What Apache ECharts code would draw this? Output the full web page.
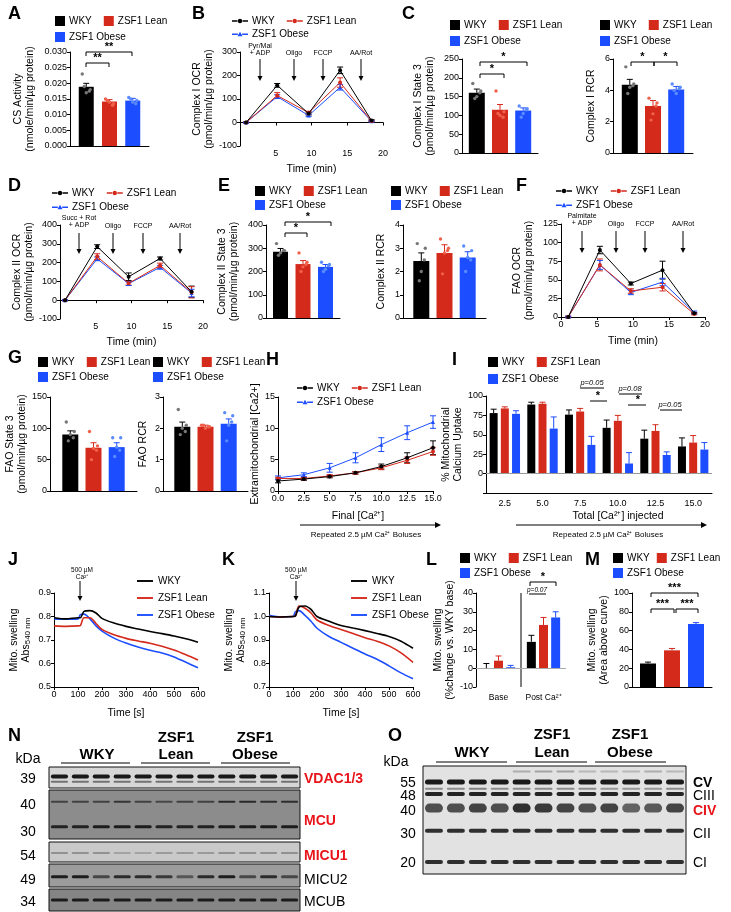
<!DOCTYPE html><html><head><meta charset="utf-8">
<script src="https://cdn.jsdelivr.net/npm/echarts@6/dist/echarts.min.js"></script>
<style>html,body{margin:0;background:#fff}#c{width:731px;height:912px}</style></head><body><div id="c"></div><script>
const FONT='Arial, "Liberation Sans", sans-serif';
const GROUPS=['WKY','ZSF1 Lean','ZSF1 Obese'];
const COLORS=['#000000','#d42a1c','#1c4dff'];
const DOTC=['#777777','#f0604a','#5a8cff'];
// ---- data ----
const csAct=[0.0189,0.0142,0.0145], csErr=[0.0011,0.0006,0.0007];
const csDots=[[0.023,0.018,0.017,0.019,0.0175],[0.015,0.0135,0.014,0.0145,0.013],[0.0155,0.0145,0.014,0.015,0.0135]];
const timeB=[0.85,5.2,9.6,14,18.4];
const c1Ocr=[[0,158,38,222,8],[0,115,42,170,6],[0,110,30,150,5]];
const c1OcrErr=[[2,8,6,14,4],[2,12,6,20,3],[2,8,5,12,3]];
const c1State3=[160,115,113], c1State3Err=[10,14,7];
const c1State3Dots=[[185,165,150,145,160],[165,110,100,105,95],[125,118,105,95,115]];
const c1RCR=[4.35,3.0,4.05], c1RCRErr=[0.35,0.35,0.2];
const c1RCRDots=[[5.5,4.4,4.2,3.8,4.3],[3.5,3.2,2.5,2.1,3.0],[4.4,4.2,3.8,4.0,4.1]];
const timeD=[0.7,5.2,9.6,14,18.4];
const c2Ocr=[[0,285,125,222,45],[0,232,90,185,42],[0,220,88,175,38]];
const c2OcrErr=[[3,10,20,8,30],[3,15,10,12,30],[3,10,10,10,20]];
const c2State3=[285,232,220], c2State3Err=[14,15,10];
const c2State3Dots=[[320,290,280,270,290],[280,240,220,200,230],[240,230,210,200,225]];
const c2RCR=[2.45,2.8,2.6], c2RCRErr=[0.35,0.35,0.25];
const c2RCRDots=[[3.2,3.0,2.0,1.6,2.5],[3.4,3.0,2.8,1.9,2.9],[3.1,2.9,2.6,2.0,2.5]];
const timeF=[1.0,5.4,9.7,14.1,18.5];
const faoOcr=[[0,90,45,63,5],[0,70,35,40,4],[0,70,33,47,6]];
const faoOcrErr=[[1,5,2,12,1],[1,8,3,5,1],[1,6,3,5,2]];
const faoState3=[90,69,70], faoState3Err=[6,8,7];
const faoState3Dots=[[110,95,90,80,85],[95,72,68,50,65],[85,85,70,55,65]];
const faoRCR=[2.05,2.05,2.15], faoRCRErr=[0.15,0.05,0.15];
const faoRCRDots=[[2.6,2.1,2.0,1.8,1.9],[2.1,2.05,2.0,2.1,2.05],[2.5,2.4,2.1,1.6,2.2]];
const caFinal=[0,2.5,5,7.5,10,12.5,15];
const extraCa=[[1.6,1.9,2.3,2.9,3.9,5.3,6.9],[2.0,2.0,2.4,2.9,3.7,4.9,6.3],[2.1,2.6,3.7,5.3,7.4,9.3,11.0]];
const extraCaErr=[[0.3,0.2,0.2,0.2,0.4,0.8,1.1],[0.2,0.2,0.2,0.2,0.3,0.5,0.6],[0.3,0.3,0.7,0.8,1.1,1.1,1.0]];
const caInjected=['2.5','5.0','7.5','10.0','12.5','15.0'];
const caUptake=[[78,89,76,59,45,35],[84,90,80,68,55,40],[77,58,37,13,24,31]];
const caUptakeErr=[[5,3,6,10,11,11],[2,2,4,7,8,9],[4,15,11,14,4,9]];
const swellT=[0,50,100,110,125,150,175,200,250,300,350,400,450,500,550,600];
const swellJ=[[0.795,0.79,0.795,0.795,0.822,0.825,0.815,0.792,0.772,0.758,0.747,0.736,0.727,0.717,0.705,0.690],
[0.760,0.758,0.760,0.762,0.795,0.795,0.770,0.745,0.722,0.707,0.696,0.686,0.673,0.657,0.637,0.615],
[0.790,0.788,0.790,0.808,0.810,0.790,0.760,0.738,0.708,0.687,0.670,0.656,0.645,0.628,0.605,0.582]];
const swellK=[[1.0,0.998,1.0,1.002,1.040,1.045,1.030,1.000,0.980,0.962,0.951,0.940,0.928,0.915,0.895,0.865],
[1.0,0.998,1.0,1.002,1.045,1.035,1.015,0.985,0.962,0.945,0.928,0.910,0.895,0.875,0.845,0.805],
[1.005,0.998,1.0,1.020,1.025,1.005,0.980,0.950,0.915,0.890,0.865,0.840,0.818,0.790,0.760,0.735]];
const swellCats=['Base','Post Ca²⁺'];
const swellPct=[[0,14],[4,23],[0.5,27]], swellPctErr=[[2.5,3.5],[2.5,4],[1,3]];
const swellArea=[25,39,67], swellAreaErr=[1.5,2,1.5];
// blot bands: [position(0-1), thickness px, intensities for 12 lanes]
const blotVDAC=[[0.45,4,[.95,.95,.95,.95,.95,.95,.95,.95,.95,.95,.95,.95]],[0.7,2,[.5,.5,.5,.5,.5,.5,.5,.5,.5,.5,.5,.5]]];
const blotMCU=[[0.24,2,[.6,.6,.6,.7,.6,.55,.6,.6,.8,.8,.75,.75]],[0.75,3,[.85,.85,.9,.9,.9,.85,.85,.85,.9,.9,.9,.9]]];
const blotMICU1=[[0.55,2,[.3,.3,.3,.2,.2,.25,.25,.25,.3,.3,.3,.3]]];
const blotMICU2=[[0.55,3,[.9,.9,.6,.8,.8,.7,.5,.8,.9,.6,.8,.6]]];
const blotMCUB=[[0.5,3,[.9,.9,.9,.9,.9,.9,.9,.9,.9,.9,.9,.9]]];
const blotOX=[[0.05,2,[0,0,0,0,.25,.3,.3,.2,.2,.2,.25,.2]],[0.148,5,[.95,.95,.95,.95,.95,.95,.95,.95,.95,.95,.95,.95]],
[0.21,2,[.4,.4,.45,.4,.4,.4,.4,.4,.35,.35,.35,.4]],[0.26,4,[.9,.9,.9,.9,.9,.9,.9,.9,.9,.9,.9,.9]],
[0.39,9,[.7,.7,.75,.7,.85,.8,.75,.7,.75,.6,.65,.75]],[0.60,4,[.85,.85,.85,.85,.85,.85,.85,.85,.85,.85,.85,.85]],
[0.89,4,[.85,.85,.85,.85,.85,.85,.85,.85,.85,.85,.85,.85]]];

// ---- builders ----
const grids=[],xAxes=[],yAxes=[],series=[],legends=[],graphics=[];
const axBase=()=>({axisLine:{show:true,onZero:true,lineStyle:{color:'#000',width:1}},axisTick:{show:true,length:3,lineStyle:{color:'#000'}},
 axisLabel:{color:'#000',fontSize:9,fontFamily:FONT,margin:3},splitLine:{show:false},
 nameTextStyle:{color:'#000',fontSize:10.5,fontFamily:FONT,lineHeight:12}});
function addGrid(l,t,w,h,x,y,extra){const gi=grids.length;grids.push(Object.assign({left:l,top:t,width:w,height:h},extra||{}));
 xAxes.push(Object.assign(axBase(),{gridIndex:gi},x));yAxes.push(Object.assign(axBase(),{gridIndex:gi},y));return gi;}
function yv(min,max,iv,name,gap,extra){return Object.assign({type:'value',min,max,interval:iv,name,nameLocation:'middle',nameGap:gap},extra||{});}
function errSeries(gi,pts,offFn,sym){series.push({type:'custom',xAxisIndex:gi,yAxisIndex:gi,data:pts,z:5,silent:true,
 renderItem:(p,api)=>{const k=api.value(3);const a=api.coord([api.value(0),api.value(1)+api.value(2)]);
  const b=api.coord([api.value(0),sym?api.value(1)-api.value(2):api.value(1)]);const x=a[0]+offFn(k);const c=COLORS[k];
  const st={stroke:c,lineWidth:1};const ch=[{type:'line',shape:{x1:x,y1:a[1],x2:x,y2:b[1]},style:st},{type:'line',shape:{x1:x-3,y1:a[1],x2:x+3,y2:a[1]},style:st}];
  if(sym)ch.push({type:'line',shape:{x1:x-3,y1:b[1],x2:x+3,y2:b[1]},style:st});return {type:'group',children:ch};}});}
function barPanel(gi,vals,errs,bw,gap){
 for(let k=0;k<3;k++)series.push({type:'bar',name:GROUPS[k],xAxisIndex:gi,yAxisIndex:gi,data:vals[k],barWidth:bw,barGap:(gap*100)+'%',itemStyle:{color:COLORS[k]},silent:true});
 const pts=[];vals.forEach((v,k)=>v.forEach((y,i)=>pts.push([i,y,errs[k][i],k])));
 errSeries(gi,pts,k=>(k-1)*bw*(1+gap),false);}
const JIT=[-4,4,0,-2,3];
function dotSeries(gi,dots,bw,gap){const pts=[];dots.forEach((d,k)=>d.forEach((v,j)=>pts.push([0,v,k,j])));
 series.push({type:'custom',xAxisIndex:gi,yAxisIndex:gi,data:pts,z:6,silent:true,renderItem:(p,api)=>{const k=api.value(2);const c=api.coord([0,api.value(1)]);
  return {type:'circle',shape:{cx:c[0]+(k-1)*bw*(1+gap)+JIT[api.value(3)],cy:c[1],r:1.7},style:{fill:DOTC[k]}};}});}
function simpleBar(l,t,w,h,y,vals,errs,bw,gap,dots){const gi=addGrid(l,t,w,h,{type:'category',data:['g'],axisLabel:{show:false},axisTick:{show:false}},y);
 barPanel(gi,vals.map(v=>[v]),errs.map(e=>[e]),bw,gap);if(dots)dotSeries(gi,dots,bw,gap);return gi;}
function linePanel(gi,xs,vals,errs,size){
 for(let k=0;k<3;k++)series.push({type:'line',name:GROUPS[k],xAxisIndex:gi,yAxisIndex:gi,data:xs.map((x,i)=>[x,vals[k][i]]),
  symbol:k==2?'triangle':'circle',symbolSize:size||4,lineStyle:{width:1,color:COLORS[k]},itemStyle:{color:COLORS[k]},silent:true,z:3-k+3});
 const pts=[];vals.forEach((v,k)=>v.forEach((y,i)=>pts.push([xs[i],y,errs[k][i],k])));errSeries(gi,pts,()=>0,true);}
const ICON_DOT='path://M0,4L7.6,4L7.6,6L0,6ZM14.4,4L22,4L22,6L14.4,6ZM8,5A3,3 0 1,1 14,5A3,3 0 1,1 8,5Z';
const ICON_TRI='path://M0,4L8,4L8,6L0,6ZM14,4L22,4L22,6L14,6ZM7.5,8L11,1.5L14.5,8Z';
const ICON_LINE='path://M0,4L22,4L22,6.6L0,6.6Z';
function legend2(left,t1,t2,kind,gap){
 const ic=n=>kind==='line'?(n==='ZSF1 Obese'?ICON_TRI:ICON_DOT):'rect';
 const w=kind==='line'?16:10,h=kind==='line'?8:10;
 const base={selectedMode:false,itemWidth:w,itemHeight:h,itemGap:gap||12,padding:0,width:300,textStyle:{fontSize:10,color:'#000',fontFamily:FONT,padding:[0,0,0,-1]}};
 legends.push(Object.assign({},base,{left,top:t1,data:['WKY','ZSF1 Lean'].map(n=>({name:n,icon:ic(n)}))}));
 legends.push(Object.assign({},base,{left,top:t2,data:[{name:'ZSF1 Obese',icon:ic('ZSF1 Obese')}]}));}
function txt(x,y,s,o){graphics.push({type:'text',x,y,style:Object.assign({text:s,fill:'#000',font:'10px '+FONT,textAlign:'center',textVerticalAlign:'middle'},o||{})});}
function ln(x1,y1,x2,y2,c,w){graphics.push({type:'line',shape:{x1,y1,x2,y2},style:{stroke:c||'#000',lineWidth:w||1}});}
function bracket(x1,x2,y,star,dy){ln(x1,y,x2,y);ln(x1,y,x1,y+(dy||4));ln(x2,y,x2,y+(dy||4));if(star)txt((x1+x2)/2,y-5,star,{font:'bold 11px '+FONT});}
function arrow(x,y1,y2,c){ln(x,y1,x,y2-3,c);graphics.push({type:'polygon',shape:{points:[[x-2.5,y2-5],[x+2.5,y2-5],[x,y2]]},style:{fill:c||'#000'}});}
function harrow(x1,x2,y){ln(x1,y,x2-5,y);graphics.push({type:'polygon',shape:{points:[[x2-6,y-3],[x2-6,y+3],[x2,y]]},style:{fill:'#000'}});}
function letter(x,y,s){txt(x,y,s,{font:'bold 18px '+FONT,textAlign:'left'});}

// ---- panels ----
// A
simpleBar(70,52,79,94,yv(0,0.03,0.005,'CS Activity\n(nmole/min/µg protein)',34,{axisLabel:{color:'#000',fontSize:9,margin:3,formatter:v=>v.toFixed(3)}}),csAct,csErr,15,0.55,csDots);
legend2(55,16,32,'bar');letter(8,14,'A');bracket(86,109,63,'**');bracket(86,132,52,'**');
// B
let gi=addGrid(240,52,143,94,{type:'value',min:0,max:20,interval:5,name:'Time (min)',nameLocation:'middle',nameGap:17,axisLabel:{color:'#000',fontSize:9,margin:3,formatter:v=>v===0?'':v}},
 yv(-100,300,100,'Complex I OCR\n(pmol/min/µg protein)',24));
linePanel(gi,timeB,c1Ocr,c1OcrErr);legend2(232,16,29,'line');letter(192,14,'B');
[[260,'Pyr/Mal\n+ ADP'],[294,'Oligo'],[323,'FCCP'],[361,'AA/Rot']].forEach(([x,s])=>{txt(x,s.includes('\n')?50:53,s,{font:'7px '+FONT});arrow(x,59,81);});
// C
simpleBar(462,59,76,94,yv(0,250,50,'Complex I State 3\n(pmol/min/µg protein)',26),c1State3,c1State3Err,16,0.45,c1State3Dots);
legend2(450,20,36,'bar');letter(402,14,'C');bracket(480,504,74,'*');bracket(480,527,62,'*');
simpleBar(613,59,80,94,yv(0,6,2,'Complex I RCR',16),c1RCR,c1RCRErr,16,0.45,c1RCRDots);
legend2(600,20,36,'bar');bracket(631,654,62,'*');bracket(654,677,62,'*');
// D
gi=addGrid(60,225,143,94,{type:'value',min:0,max:20,interval:5,name:'Time (min)',nameLocation:'middle',nameGap:17,axisLabel:{color:'#000',fontSize:9,margin:3,formatter:v=>v===0?'':v}},
 yv(-100,400,100,'Complex II OCR\n(pmol/min/µg protein)',24));
linePanel(gi,timeD,c2Ocr,c2OcrErr);legend2(52,188,202,'line');letter(8,186,'D');
[[79,'Succ + Rot\n+ ADP'],[113,'Oligo'],[143,'FCCP'],[180,'AA/Rot']].forEach(([x,s])=>{txt(x,s.includes('\n')?222:226,s,{font:'7px '+FONT});arrow(x,233,254);});
// E
simpleBar(266,225,74,93,yv(0,400,100,'Complex II State 3\n(pmol/min/µg protein)',26),c2State3,c2State3Err,15,0.5,c2State3Dots);
legend2(255,186,200,'bar');letter(218,186,'E');bracket(285,307,233,'*');bracket(285,331,222,'*');
simpleBar(403,225,83,93,yv(0,4,1,'Complex II RCR',16),c2RCR,c2RCRErr,16,0.45,c2RCRDots);legend2(391,186,200,'bar');
// F
gi=addGrid(561,224,144,93,{type:'value',min:0,max:20,interval:5,name:'Time (min)',nameLocation:'middle',nameGap:18,axisLine:{onZero:false,lineStyle:{color:'#000'}}},
 yv(0,125,25,'FAO OCR\n(pmol/min/µg protein)',26));
linePanel(gi,timeF,faoOcr,faoOcrErr);legend2(556,186,200,'line');letter(516,186,'F');
[[582,'Palmitate\n+ ADP'],[616,'Oligo'],[645,'FCCP'],[683,'AA/Rot']].forEach(([x,s])=>{txt(x,s.includes('\n')?220:224,s,{font:'7px '+FONT});arrow(x,231,253);});
// G
simpleBar(50,397,87,94,yv(0,150,50,'FAO State 3\n(pmol/min/µg protein)',22),faoState3,faoState3Err,16,0.45,faoState3Dots);
legend2(38,357,372,'bar');letter(8,358,'G');
simpleBar(163,397,85,94,yv(0,3,1,'FAO RCR',14),faoRCR,faoRCRErr,16,0.45,faoRCRDots);legend2(153,357,372,'bar');
// H
gi=addGrid(278,397,155,94,{type:'value',min:0,max:15,interval:2.5,axisLabel:{color:'#000',fontSize:9,margin:3,formatter:v=>v.toFixed(1)}},
 yv(0,15,5,'Extramitochondrial [Ca2+]',16));
linePanel(gi,caFinal,extraCa,extraCaErr);legend2(297,383,397,'line');letter(266,360,'H');
txt(358,516,'Final [Ca²⁺]',{font:'10.5px '+FONT});harrow(300,441,525);txt(366,535,'Repeated 2.5 µM Ca²⁺ Boluses',{font:'8px '+FONT});
// I
gi=addGrid(486,396,226,97,{type:'category',data:caInjected,axisLine:{onZero:false,lineStyle:{color:'#000'}},axisTick:{show:false},axisLabel:{color:'#000',fontSize:9,margin:6,interval:0}},
 yv(-25,100,25,'% Mitochondrial\nCalcium Uptake',22,{axisLabel:{color:'#000',fontSize:9,margin:3,formatter:v=>v<0?'':v}}));
barPanel(gi,caUptake,caUptakeErr,8,0.4);
series[series.length-4].markLine={silent:true,symbol:'none',label:{show:false},lineStyle:{color:'#999',type:'solid',width:1},data:[{yAxis:0}]};
legend2(488,357,374,'bar');letter(452,360,'I');
txt(592,383,'p=0.05',{font:'italic 7.5px '+FONT});ln(580,388,604,388);txt(598,396,'*',{font:'bold 11px '+FONT});ln(590,401,607,401);
txt(630,389,'p=0.08',{font:'italic 7.5px '+FONT});ln(619,394,642,394);txt(638,400,'*',{font:'bold 11px '+FONT});ln(628,405,646,405);
txt(670,405,'p=0.05',{font:'italic 7.5px '+FONT});ln(660,410,682,410);
txt(618,516,'Total [Ca²⁺] injected',{font:'10.5px '+FONT});harrow(516,707,525);txt(608,535,'Repeated 2.5 µM Ca²⁺ Boluses',{font:'8px '+FONT});
// J, K
function swellPanel(l,vals,ymin,ymax,lx){
 const g=addGrid(l,593,144,94,{type:'value',min:0,max:600,interval:100,name:'Time [s]',nameLocation:'middle',nameGap:20,axisLine:{onZero:false,lineStyle:{color:'#000'}}},
  yv(ymin,ymax,0.1,'{a|Mito. swelling}\n{a|Abs}{s|540 nm}',22,{axisLabel:{color:'#000',fontSize:9,margin:3,formatter:v=>v.toFixed(1)},
  nameTextStyle:{rich:{a:{fontSize:10.5,fontFamily:FONT,color:'#000'},s:{fontSize:8,fontFamily:FONT,color:'#000',padding:[4,0,0,0]}}}}));
 for(let k=0;k<3;k++)series.push({type:'line',name:GROUPS[k],xAxisIndex:g,yAxisIndex:g,data:swellT.map((t,i)=>[t,vals[k][i]]),showSymbol:false,smooth:0.3,lineStyle:{width:1.6,color:COLORS[k]},itemStyle:{color:COLORS[k]},silent:true,z:5-k});
 legends.push({selectedMode:false,orient:'vertical',left:lx,top:576,itemWidth:16,itemHeight:8,itemGap:7,padding:0,textStyle:{fontSize:10,color:'#000',fontFamily:FONT},data:GROUPS.map(n=>({name:n,icon:ICON_LINE}))});}
swellPanel(54,swellJ,0.5,0.9,137);letter(8,560,'J');txt(82,574,'500 µM\nCa²⁺',{font:'6.5px '+FONT});arrow(80,581,601);
swellPanel(269,swellK,0.7,1.1,351);letter(222,560,'K');txt(296,574,'500 µM\nCa²⁺',{font:'6.5px '+FONT});arrow(296,581,601);
// L
gi=addGrid(476,593,90,94,{type:'category',data:swellCats,axisTick:{show:false},axisLine:{show:false,onZero:false},axisLabel:{color:'#000',fontSize:8.5,margin:6,interval:0}},
 yv(-10,40,10,'Mito. swelling\n(%change vs. WKY base)',20));
barPanel(gi,swellPct,swellPctErr,9,0.35);ln(521,593,521,687);
series[series.length-4].markLine={silent:true,symbol:'none',label:{show:false},lineStyle:{color:'#aaa',type:'solid',width:1},data:[{yAxis:0}]};
legend2(460,553,568,'bar');letter(426,560,'L');bracket(530,556,582,'*');txt(537,590,'p=0.07',{font:'italic 6.5px '+FONT});ln(529,594,546,594);
// M
simpleBar(632,593,80,94,yv(0,100,20,'Mito. swelling\n(Area above curve)',20),swellArea,swellAreaErr,16,0.5);
legend2(613,553,568,'bar',7);letter(585,560,'M');bracket(651,698,593,'***');bracket(651,674,609,'***');bracket(676,698,609,'***');
// blots
function blot(l,t,w,h,bands,bg){const g=addGrid(l,t,w,h,{type:'value',min:0,max:12,show:false},{type:'value',min:0,max:1,inverse:true,show:false},
 {show:true,backgroundColor:bg,borderColor:'#111',borderWidth:1});
 const pts=[];bands.forEach(([pos,th,ints])=>ints.forEach((v,i)=>pts.push([i,pos,v,th])));
 series.push({type:'custom',xAxisIndex:g,yAxisIndex:g,data:pts,silent:true,renderItem:(p,api)=>{const c=api.coord([api.value(0)+0.5,api.value(1)]);
  const w=api.size([0.82,0])[0];const th=api.value(3);return {type:'rect',shape:{x:c[0]-w/2,y:c[1]-th/2,width:w,height:th,r:th/2},style:{fill:'rgba(15,15,15,'+api.value(2)+')'}};}});}
blot(49,767,251,21,blotVDAC,'#d6d6d6');blot(49,790,251,49,blotMCU,'#8c8c8c');blot(49,842,251,20,blotMICU1,'#c9c9c9');
blot(49,864,251,23,blotMICU2,'#9c9c9c');blot(49,889,251,22,blotMCUB,'#858585');
blot(423,766,263,108,blotOX,'#e2e2e2');
letter(8,736,'N');letter(388,736,'O');
const HB='bold 15px '+FONT;
txt(97,755,'WKY',{font:HB});txt(176,738,'ZSF1',{font:HB});txt(176,755,'Lean',{font:HB});txt(255,738,'ZSF1',{font:HB});txt(255,755,'Obese',{font:HB});
ln(61,763,130,763);ln(141,763,210,763);ln(221,763,290,763);
txt(472,753,'WKY',{font:HB});txt(552,735,'ZSF1',{font:HB});txt(552,753,'Lean',{font:HB});txt(630,735,'ZSF1',{font:HB});txt(630,753,'Obese',{font:HB});
ln(436,762,507,762);ln(516,762,587,762);ln(595,762,666,762);
const KF='14px '+FONT;
txt(28,759,'kDa',{font:KF});[[779,'39'],[805,'40'],[832,'30'],[856,'54'],[880,'49'],[902,'34']].forEach(([y,s])=>txt(28,y,s,{font:KF}));
[[779,'VDAC1/3',1],[821,'MCU',1],[856,'MICU1',1],[880,'MICU2',0],[902,'MCUB',0]].forEach(([y,s,r])=>txt(304,y,s,{font:(r?'bold ':'')+'14px '+FONT,fill:r?'#e8141a':'#000',textAlign:'left'}));
txt(396,762,'kDa',{font:KF});[[783,'55'],[796,'48'],[811,'40'],[834,'30'],[863,'20']].forEach(([y,s])=>txt(408,y,s,{font:KF}));
[[783,'CV','bold ','#000'],[796,'CIII','','#000'],[811,'CIV','bold ','#e8141a'],[834,'CII','','#000'],[863,'CI','','#000']].forEach(([y,s,b,c])=>txt(693,y,s,{font:b+'14px '+FONT,fill:c,textAlign:'left'}));

const chart=echarts.init(document.getElementById('c'),null,{renderer:'canvas'});
chart.setOption({animation:false,textStyle:{fontFamily:FONT},grid:grids,xAxis:xAxes,yAxis:yAxes,series,legend:legends,graphic:graphics});
</script></body></html>
